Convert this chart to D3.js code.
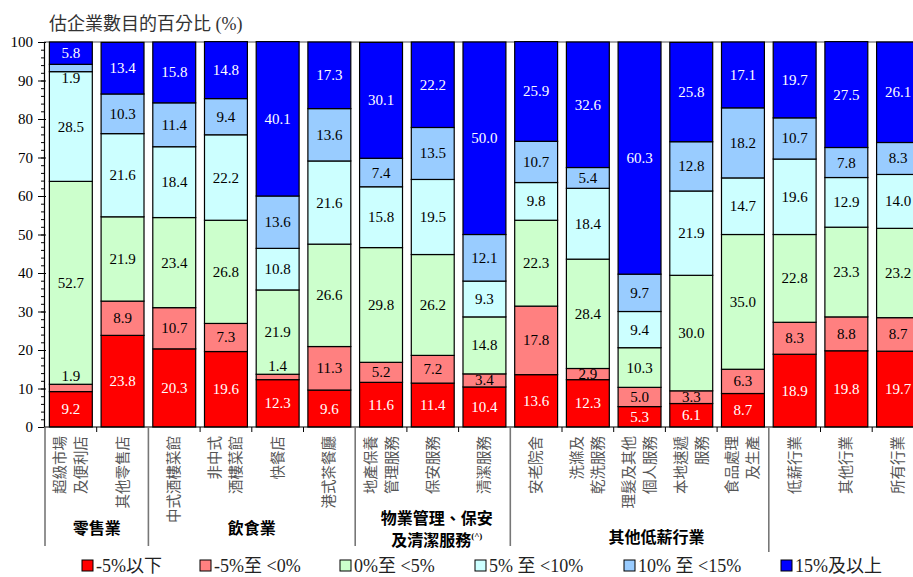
<!DOCTYPE html>
<html>
<head>
<meta charset="utf-8">
<script src="https://cdn.jsdelivr.net/npm/d3@7"></script>
<style>
  body { margin: 0; background: #fff; }
  svg { display: block; }
</style>
</head>
<body>
<svg id="chart" width="913" height="577"></svg>
<script>
// Industries (each entry = lines of the rotated label)
const categories = [
  ["超級市場", "及便利店"], ["其他零售店"],
  ["中式酒樓菜館"], ["非中式", "酒樓菜館"], ["快餐店"], ["港式茶餐廳"],
  ["地產保養", "管理服務"], ["保安服務"], ["清潔服務"],
  ["安老院舍"], ["洗滌及", "乾洗服務"], ["理髮及其他", "個人服務"], ["本地速遞", "服務"], ["食品處理", "及生產"],
  ["低薪行業"], ["其他行業"], ["所有行業"]
];

// Industry groups: label lines and the category index range they cover
const groupNames = [["零售業"], ["飲食業"], ["物業管理、保安", "及清潔服務"], ["其他低薪行業"], [""]];
const groupStarts = [0, 2, 6, 9, 14];
const groupEnds = [2, 6, 9, 14, 17];

// Share of firms (%) by estimated change band
const seriesNames = ["-5%以下", "-5%至 <0%", "0%至 <5%", "5% 至 <10%", "10% 至 <15%", "15%及以上"];
const sBelowMinus5 = [9.2, 23.8, 20.3, 19.6, 12.3, 9.6, 11.6, 11.4, 10.4, 13.6, 12.3, 5.3, 6.1, 8.7, 18.9, 19.8, 19.7];
const sMinus5To0   = [1.9, 8.9, 10.7, 7.3, 1.4, 11.3, 5.2, 7.2, 3.4, 17.8, 2.9, 5.0, 3.3, 6.3, 8.3, 8.8, 8.7];
const s0To5        = [52.7, 21.9, 23.4, 26.8, 21.9, 26.6, 29.8, 26.2, 14.8, 22.3, 28.4, 10.3, 30.0, 35.0, 22.8, 23.3, 23.2];
const s5To10       = [28.5, 21.6, 18.4, 22.2, 10.8, 21.6, 15.8, 19.5, 9.3, 9.8, 18.4, 9.4, 21.9, 14.7, 19.6, 12.9, 14.0];
const s10To15      = [1.9, 10.3, 11.4, 9.4, 13.6, 13.6, 7.4, 13.5, 12.1, 10.7, 5.4, 9.7, 12.8, 18.2, 10.7, 7.8, 8.3];
const s15Plus      = [5.8, 13.4, 15.8, 14.8, 40.1, 17.3, 30.1, 22.2, 50.0, 25.9, 32.6, 60.3, 25.8, 17.1, 19.7, 27.5, 26.1];

const yTicks = [0, 10, 20, 30, 40, 50, 60, 70, 80, 90, 100];

const seriesColors = ["#FF0000", "#FF8080", "#CCFFCC", "#CCFFFF", "#99CCFF", "#0000FF"];
const labelColors = ["#fff", "#000", "#000", "#000", "#000", "#fff"];

const allSeries = [sBelowMinus5, sMinus5To0, s0To5, s5To10, s10To15, s15Plus];
const keys = seriesNames.map((_, i) => "s" + i);
const rows = categories.map((c, j) => {
  const r = { idx: j };
  keys.forEach((k, i) => r[k] = allSeries[i][j]);
  return r;
});

const serif = "'Liberation Serif', 'Times New Roman', 'Noto Sans CJK TC', serif";
const cjk = "'Liberation Serif', 'Noto Sans CJK TC', sans-serif";

const svg = d3.select("#chart");
const axisX = 44;

const x = d3.scaleBand()
  .domain(d3.range(categories.length))
  .range([45, 45 + 17 * 51.7])
  .paddingInner(0.17)
  .paddingOuter(0.085);
const step = x.step();
const edge = i => x.range()[0] + i * step;

const y = d3.scaleLinear().domain([0, 100]).range([427, 42]);

// Title
svg.append("text")
  .attr("x", 49).attr("y", 30)
  .attr("font-family", cjk).attr("font-size", 18).attr("fill", "#333")
  .text("估企業數目的百分比 (%)");

// Top frame line of the plot
svg.append("line")
  .attr("x1", axisX).attr("x2", 913)
  .attr("y1", y(100)).attr("y2", y(100))
  .attr("stroke", "#555").attr("stroke-width", 1);

// Stacked bars
const stack = d3.stack().keys(keys)(rows);
const layers = svg.append("g").selectAll("g")
  .data(stack).join("g")
  .attr("fill", (d, i) => seriesColors[i]);

layers.selectAll("rect")
  .data(d => d)
  .join("rect")
  .attr("x", d => x(d.data.idx))
  .attr("width", x.bandwidth())
  .attr("y", d => y(d[1]))
  .attr("height", d => y(d[0]) - y(d[1]))
  .attr("stroke", "#000")
  .attr("stroke-width", 1.2);

// Value labels
const fmt = d3.format(".1f");
stack.forEach((layer, i) => {
  svg.append("g").selectAll("text")
    .data(layer).join("text")
    .attr("x", d => x(d.data.idx) + x.bandwidth() / 2)
    .attr("y", d => {
      const v = d[1] - d[0];
      if (v < 2 && i === 1) return y(d[1]) - 8;   // thin segment: label above
      if (v < 2 && i === 4) return y(d[0]) + 6;   // thin segment: label below
      return (y(d[0]) + y(d[1])) / 2;
    })
    .attr("text-anchor", "middle")
    .attr("dominant-baseline", "central")
    .attr("font-family", serif).attr("font-size", 15)
    .attr("fill", labelColors[i])
    .text(d => fmt(d.data[keys[i]]));
});

// Y axis: major and minor ticks
const yAxis = svg.append("g").attr("transform", `translate(${axisX},0)`)
  .call(d3.axisLeft(y).tickValues(yTicks).tickSize(6).tickPadding(5).tickSizeOuter(0));
yAxis.selectAll("text").attr("font-family", serif).attr("font-size", 15).attr("fill", "#000");
yAxis.selectAll(".tick line").attr("x2", -6).attr("x1", 2).attr("stroke", "#000");
yAxis.select(".domain").attr("stroke", "#000").attr("stroke-width", 1.2);
svg.append("g").attr("transform", `translate(${axisX},0)`)
  .call(d3.axisLeft(y).ticks(50).tickSize(3).tickFormat("").tickSizeOuter(0))
  .call(g => g.select(".domain").remove())
  .selectAll("line").attr("stroke", "#000");

// X axis line and category ticks
svg.append("line")
  .attr("x1", axisX).attr("x2", 913).attr("y1", y(0)).attr("y2", y(0))
  .attr("stroke", "#000").attr("stroke-width", 1.2);
svg.append("g").selectAll("line")
  .data(d3.range(1, categories.length + 1).filter(i => !groupStarts.includes(i)))
  .join("line")
  .attr("x1", i => edge(i)).attr("x2", i => edge(i))
  .attr("y1", y(0)).attr("y2", y(0) + 5)
  .attr("stroke", "#000");

// Group separators
svg.append("g").selectAll("line")
  .data(groupStarts)
  .join("line")
  .attr("x1", i => edge(i)).attr("x2", i => edge(i))
  .attr("y1", y(0)).attr("y2", (i, k) => k === groupStarts.length - 1 ? 552 : 546)
  .attr("stroke", "#777").attr("stroke-width", 1.6);

// Rotated category labels
const catG = svg.append("g");
categories.forEach((lines, j) => {
  const t = catG.append("text")
    .attr("transform", `translate(${x(j) + x.bandwidth() / 2},436) rotate(-90)`)
    .attr("text-anchor", "end")
    .attr("dominant-baseline", "central")
    .attr("font-family", cjk).attr("font-size", 14.5).attr("fill", "#555");
  lines.forEach((ln, k) => {
    t.append("tspan")
      .attr("x", 0)
      .attr("y", (k - (lines.length - 1) / 2) * 21)
      .text(ln);
  });
});

// Group labels
const groupDx = [0, 0, 4, 17, 0];
const groupBase = [534, 534, 524, 543, 534];
groupNames.forEach((lines, g) => {
  const cx = (edge(groupStarts[g]) + edge(groupEnds[g])) / 2 + groupDx[g];
  lines.forEach((ln, k) => {
    const t = svg.append("text")
      .attr("x", cx).attr("y", groupBase[g] + k * 22)
      .attr("text-anchor", "middle")
      .attr("font-family", cjk).attr("font-size", 16)
      .attr("font-weight", "bold").attr("fill", "#000")
      .text(ln);
    if (g === 2 && k === 1) {
      t.append("tspan")
        .attr("font-size", 9).attr("dy", -7)
        .text("(^)");
    }
  });
});

// Legend
const legendX = [82, 200, 340, 475, 624, 781];
const legend = svg.append("g");
seriesNames.forEach((name, i) => {
  legend.append("rect")
    .attr("x", legendX[i]).attr("y", 560)
    .attr("width", 11).attr("height", 11)
    .attr("fill", seriesColors[i]).attr("stroke", "#000").attr("stroke-width", 1);
  legend.append("text")
    .attr("x", legendX[i] + 14).attr("y", 566)
    .attr("dominant-baseline", "central")
    .attr("font-family", cjk).attr("font-size", 18).attr("fill", "#222")
    .text(name);
});
</script>
</body>
</html>
